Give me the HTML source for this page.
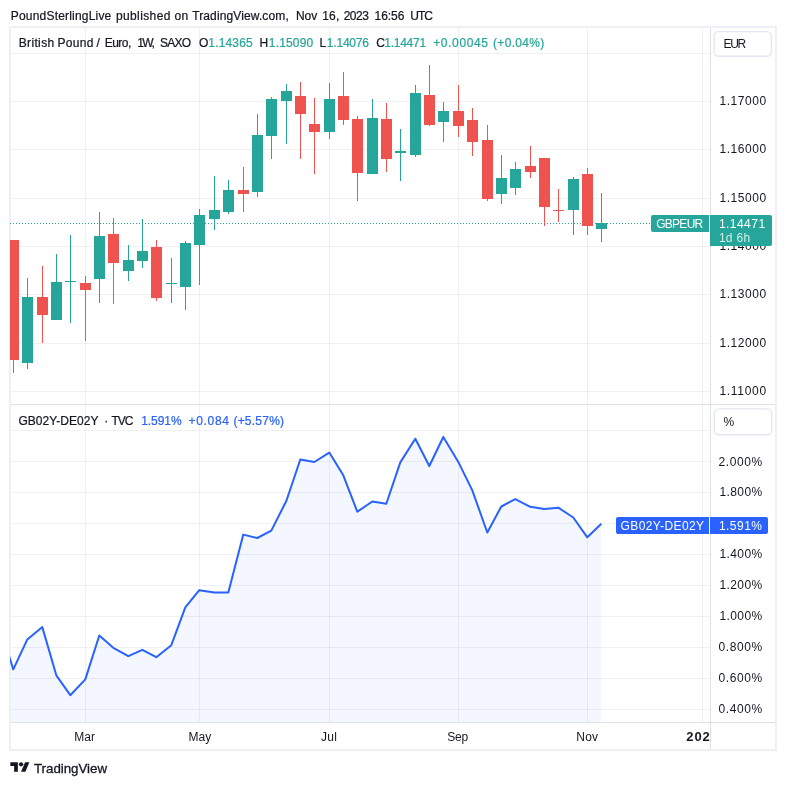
<!DOCTYPE html>
<html><head><meta charset="utf-8"><title>GBPEUR chart</title>
<style>
html,body{margin:0;padding:0;background:#fff;}
body{width:786px;height:785px;position:relative;overflow:hidden;font-family:"Liberation Sans",Arial,sans-serif;color:#131722;}
.t{position:absolute;white-space:nowrap;font-size:12px;line-height:14px;-webkit-text-stroke:0.22px currentColor;}
.g{color:#26a69a;} .b{color:#2962ff;} .ns{-webkit-text-stroke:0;} .tvt{-webkit-text-stroke:0.3px #131722;} .w{color:#fff;-webkit-text-stroke:0;} .w2{color:rgba(255,255,255,.8);-webkit-text-stroke:0;}
.ax{position:absolute;left:719px;font-size:12px;line-height:14px;letter-spacing:0.55px;white-space:nowrap;}
.tm{position:absolute;top:730px;font-size:12px;line-height:14px;white-space:nowrap;transform:translateX(-50%);}
.btn{position:absolute;left:713px;width:56px;height:24px;border:2px solid #eef0f5;border-radius:5px;background:#fff;box-sizing:content-box;}
.btn span{position:absolute;left:9px;top:5px;font-size:12px;line-height:14px;}
.lab{position:absolute;color:#fff;font-size:12px;line-height:14px;white-space:nowrap;box-sizing:border-box;}
</style></head><body>
<svg width="786" height="785" viewBox="0 0 786 785" style="position:absolute;left:0;top:0" shape-rendering="crispEdges">
<defs><clipPath id="c1"><rect x="10" y="28" width="700" height="376"/></clipPath><clipPath id="c2"><rect x="10" y="405" width="700" height="317"/></clipPath></defs>
<g clip-path="url(#c2)"><path d="M-0.8,625.0 L13.3,669.4 L27.3,639.4 L42.3,627.1 L56.3,675.3 L70.3,695.2 L85.3,679.4 L99.3,635.5 L113.3,647.8 L128.3,656.2 L142.3,649.8 L156.3,657.2 L171.3,645.2 L185.3,607.3 L199.3,590.2 L214.3,592.5 L228.3,592.5 L243.3,534.6 L257.3,538.0 L271.3,530.6 L286.3,501.0 L300.3,459.5 L314.3,462.0 L329.3,452.6 L343.3,475.3 L357.3,511.7 L372.3,501.5 L386.3,503.7 L400.3,462.4 L415.3,438.7 L429.3,466.0 L443.3,437.0 L458.3,461.9 L472.3,490.4 L487.3,532.5 L501.3,506.5 L515.3,499.1 L530.3,506.8 L544.3,509.0 L558.3,507.7 L573.3,517.5 L587.3,537.3 L601.3,523.8 L601,722 L-1,722 Z" fill="#f4f7ff" stroke="none"/></g>
<rect x="85" y="28" width="1" height="694" fill="rgba(42,46,57,0.065)"/>
<rect x="199" y="28" width="1" height="694" fill="rgba(42,46,57,0.065)"/>
<rect x="329" y="28" width="1" height="694" fill="rgba(42,46,57,0.065)"/>
<rect x="458" y="28" width="1" height="694" fill="rgba(42,46,57,0.065)"/>
<rect x="587" y="28" width="1" height="694" fill="rgba(42,46,57,0.065)"/>
<rect x="702" y="28" width="1" height="694" fill="rgba(42,46,57,0.065)"/>
<rect x="11" y="53" width="699" height="1" fill="rgba(42,46,57,0.065)"/>
<rect x="11" y="101" width="699" height="1" fill="rgba(42,46,57,0.065)"/>
<rect x="11" y="149" width="699" height="1" fill="rgba(42,46,57,0.065)"/>
<rect x="11" y="198" width="699" height="1" fill="rgba(42,46,57,0.065)"/>
<rect x="11" y="246" width="699" height="1" fill="rgba(42,46,57,0.065)"/>
<rect x="11" y="294" width="699" height="1" fill="rgba(42,46,57,0.065)"/>
<rect x="11" y="343" width="699" height="1" fill="rgba(42,46,57,0.065)"/>
<rect x="11" y="391" width="699" height="1" fill="rgba(42,46,57,0.065)"/>
<rect x="11" y="430" width="699" height="1" fill="rgba(42,46,57,0.065)"/>
<rect x="11" y="461" width="699" height="1" fill="rgba(42,46,57,0.065)"/>
<rect x="11" y="492" width="699" height="1" fill="rgba(42,46,57,0.065)"/>
<rect x="11" y="523" width="699" height="1" fill="rgba(42,46,57,0.065)"/>
<rect x="11" y="554" width="699" height="1" fill="rgba(42,46,57,0.065)"/>
<rect x="11" y="585" width="699" height="1" fill="rgba(42,46,57,0.065)"/>
<rect x="11" y="616" width="699" height="1" fill="rgba(42,46,57,0.065)"/>
<rect x="11" y="647" width="699" height="1" fill="rgba(42,46,57,0.065)"/>
<rect x="11" y="678" width="699" height="1" fill="rgba(42,46,57,0.065)"/>
<rect x="11" y="709" width="699" height="1" fill="rgba(42,46,57,0.065)"/>
<rect x="10" y="27" width="766" height="723" fill="none" stroke="#eef0f5" stroke-width="2"/>
<rect x="11" y="404" width="764" height="1" fill="#dee0e7"/>
<rect x="11" y="722" width="764" height="1" fill="#dee0e7"/>
<rect x="710" y="28" width="1" height="721" fill="#dee0e7"/>
<line x1="10" x2="710" y1="223.5" y2="223.5" stroke="#26a69a" stroke-width="1" stroke-dasharray="1 2"/>
<g clip-path="url(#c1)">
<rect x="13" y="240" width="1" height="133" fill="#ef5350"/>
<rect x="8" y="240" width="11" height="120" fill="#ef5350"/>
<rect x="27" y="278" width="1" height="91" fill="#26a69a"/>
<rect x="22" y="297" width="11" height="66" fill="#26a69a"/>
<rect x="42" y="266" width="1" height="77" fill="#ef5350"/>
<rect x="37" y="297" width="11" height="18" fill="#ef5350"/>
<rect x="56" y="254" width="1" height="66" fill="#26a69a"/>
<rect x="51" y="282" width="11" height="38" fill="#26a69a"/>
<rect x="70" y="235" width="1" height="88" fill="#26a69a"/>
<rect x="65" y="281" width="11" height="1" fill="#26a69a"/>
<rect x="85" y="276" width="1" height="65" fill="#ef5350"/>
<rect x="80" y="283" width="11" height="7" fill="#ef5350"/>
<rect x="99" y="212" width="1" height="91" fill="#26a69a"/>
<rect x="94" y="236" width="11" height="43" fill="#26a69a"/>
<rect x="113" y="218" width="1" height="86" fill="#ef5350"/>
<rect x="108" y="234" width="11" height="29" fill="#ef5350"/>
<rect x="128" y="245" width="1" height="36" fill="#26a69a"/>
<rect x="123" y="260" width="11" height="11" fill="#26a69a"/>
<rect x="142" y="219" width="1" height="49" fill="#26a69a"/>
<rect x="137" y="251" width="11" height="10" fill="#26a69a"/>
<rect x="156" y="240" width="1" height="61" fill="#ef5350"/>
<rect x="151" y="247" width="11" height="51" fill="#ef5350"/>
<rect x="171" y="258" width="1" height="45" fill="#26a69a"/>
<rect x="166" y="283" width="11" height="1" fill="#26a69a"/>
<rect x="185" y="241" width="1" height="69" fill="#26a69a"/>
<rect x="180" y="243" width="11" height="44" fill="#26a69a"/>
<rect x="199" y="209" width="1" height="76" fill="#26a69a"/>
<rect x="194" y="215" width="11" height="30" fill="#26a69a"/>
<rect x="214" y="176" width="1" height="54" fill="#26a69a"/>
<rect x="209" y="210" width="11" height="9" fill="#26a69a"/>
<rect x="228" y="180" width="1" height="34" fill="#26a69a"/>
<rect x="223" y="190" width="11" height="22" fill="#26a69a"/>
<rect x="243" y="167" width="1" height="45" fill="#ef5350"/>
<rect x="238" y="190" width="11" height="4" fill="#ef5350"/>
<rect x="257" y="114" width="1" height="83" fill="#26a69a"/>
<rect x="252" y="135" width="11" height="57" fill="#26a69a"/>
<rect x="271" y="97" width="1" height="62" fill="#26a69a"/>
<rect x="266" y="99" width="11" height="37" fill="#26a69a"/>
<rect x="286" y="84" width="1" height="60" fill="#26a69a"/>
<rect x="281" y="91" width="11" height="10" fill="#26a69a"/>
<rect x="300" y="82" width="1" height="77" fill="#ef5350"/>
<rect x="295" y="96" width="11" height="18" fill="#ef5350"/>
<rect x="314" y="98" width="1" height="76" fill="#ef5350"/>
<rect x="309" y="124" width="11" height="8" fill="#ef5350"/>
<rect x="329" y="83" width="1" height="56" fill="#26a69a"/>
<rect x="324" y="99" width="11" height="33" fill="#26a69a"/>
<rect x="343" y="72" width="1" height="53" fill="#ef5350"/>
<rect x="338" y="96" width="11" height="24" fill="#ef5350"/>
<rect x="357" y="116" width="1" height="85" fill="#ef5350"/>
<rect x="352" y="119" width="11" height="54" fill="#ef5350"/>
<rect x="372" y="99" width="1" height="75" fill="#26a69a"/>
<rect x="367" y="118" width="11" height="56" fill="#26a69a"/>
<rect x="386" y="103" width="1" height="69" fill="#ef5350"/>
<rect x="381" y="119" width="11" height="40" fill="#ef5350"/>
<rect x="400" y="129" width="1" height="52" fill="#26a69a"/>
<rect x="395" y="151" width="11" height="2" fill="#26a69a"/>
<rect x="415" y="85" width="1" height="72" fill="#26a69a"/>
<rect x="410" y="93" width="11" height="62" fill="#26a69a"/>
<rect x="429" y="65" width="1" height="61" fill="#ef5350"/>
<rect x="424" y="95" width="11" height="30" fill="#ef5350"/>
<rect x="443" y="102" width="1" height="40" fill="#26a69a"/>
<rect x="438" y="111" width="11" height="11" fill="#26a69a"/>
<rect x="458" y="85" width="1" height="52" fill="#ef5350"/>
<rect x="453" y="111" width="11" height="15" fill="#ef5350"/>
<rect x="472" y="108" width="1" height="48" fill="#ef5350"/>
<rect x="467" y="120" width="11" height="22" fill="#ef5350"/>
<rect x="487" y="125" width="1" height="76" fill="#ef5350"/>
<rect x="482" y="140" width="11" height="59" fill="#ef5350"/>
<rect x="501" y="155" width="1" height="49" fill="#26a69a"/>
<rect x="496" y="178" width="11" height="16" fill="#26a69a"/>
<rect x="515" y="162" width="1" height="33" fill="#26a69a"/>
<rect x="510" y="169" width="11" height="19" fill="#26a69a"/>
<rect x="530" y="146" width="1" height="32" fill="#ef5350"/>
<rect x="525" y="166" width="11" height="6" fill="#ef5350"/>
<rect x="544" y="158" width="1" height="68" fill="#ef5350"/>
<rect x="539" y="158" width="11" height="49" fill="#ef5350"/>
<rect x="558" y="189" width="1" height="33" fill="#ef5350"/>
<rect x="553" y="210" width="11" height="1" fill="#ef5350"/>
<rect x="573" y="177" width="1" height="58" fill="#26a69a"/>
<rect x="568" y="179" width="11" height="31" fill="#26a69a"/>
<rect x="587" y="168" width="1" height="67" fill="#ef5350"/>
<rect x="582" y="174" width="11" height="52" fill="#ef5350"/>
<rect x="601" y="193" width="1" height="49" fill="#26a69a"/>
<rect x="596" y="223" width="11" height="6" fill="#26a69a"/>
</g>
<g clip-path="url(#c2)" shape-rendering="geometricPrecision"><path d="M-0.8,625.0 L13.3,669.4 L27.3,639.4 L42.3,627.1 L56.3,675.3 L70.3,695.2 L85.3,679.4 L99.3,635.5 L113.3,647.8 L128.3,656.2 L142.3,649.8 L156.3,657.2 L171.3,645.2 L185.3,607.3 L199.3,590.2 L214.3,592.5 L228.3,592.5 L243.3,534.6 L257.3,538.0 L271.3,530.6 L286.3,501.0 L300.3,459.5 L314.3,462.0 L329.3,452.6 L343.3,475.3 L357.3,511.7 L372.3,501.5 L386.3,503.7 L400.3,462.4 L415.3,438.7 L429.3,466.0 L443.3,437.0 L458.3,461.9 L472.3,490.4 L487.3,532.5 L501.3,506.5 L515.3,499.1 L530.3,506.8 L544.3,509.0 L558.3,507.7 L573.3,517.5 L587.3,537.3 L601.3,523.8" fill="none" stroke="#2962ff" stroke-width="2" stroke-linejoin="round" stroke-linecap="butt"/></g>
<g shape-rendering="geometricPrecision" fill="#fff" stroke="#e3e7f1" stroke-width="1.4"><rect x="714.1" y="31.6" width="57.3" height="24.7" rx="4.5"/><rect x="714.3" y="408.9" width="57.4" height="25.9" rx="4.5"/></g>
</svg>
<div class="t " style="left:10.80px;top:9px;font-size:12px;font-weight:normal;letter-spacing:0.192px">PoundSterlingLive</div>
<div class="t " style="left:115.90px;top:9px;font-size:12px;font-weight:normal;letter-spacing:0.387px">published</div>
<div class="t " style="left:174.40px;top:9px;font-size:12px;font-weight:normal;letter-spacing:0.526px">on</div>
<div class="t " style="left:192.20px;top:9px;font-size:12px;font-weight:normal;letter-spacing:0.122px">TradingView.com,</div>
<div class="t " style="left:296.00px;top:9px;font-size:12px;font-weight:normal;letter-spacing:-0.070px">Nov</div>
<div class="t " style="left:322.20px;top:9px;font-size:12px;font-weight:normal;letter-spacing:0.226px">16,</div>
<div class="t " style="left:343.70px;top:9px;font-size:12px;font-weight:normal;letter-spacing:-0.507px">2023</div>
<div class="t " style="left:374.50px;top:9px;font-size:12px;font-weight:normal;letter-spacing:-0.039px">16:56</div>
<div class="t " style="left:410.30px;top:9px;font-size:12px;font-weight:normal;letter-spacing:-0.998px">UTC</div>
<div class="t " style="left:18.70px;top:36px;font-size:12px;font-weight:normal;letter-spacing:0.356px">British</div>
<div class="t " style="left:57.60px;top:36px;font-size:12px;font-weight:normal;letter-spacing:0.269px">Pound</div>
<div class="t " style="left:96.50px;top:36px;font-size:12px;font-weight:normal;letter-spacing:0.000px">/</div>
<div class="t " style="left:104.80px;top:36px;font-size:12px;font-weight:normal;letter-spacing:-0.562px">Euro,</div>
<div class="t " style="left:137.20px;top:36px;font-size:12px;font-weight:normal;letter-spacing:-1.519px">1W,</div>
<div class="t " style="left:159.90px;top:36px;font-size:12px;font-weight:normal;letter-spacing:-0.704px">SAXO</div>
<div class="t " style="left:199.00px;top:36px;font-size:12px;font-weight:normal;letter-spacing:0.000px">O</div>
<div class="t g" style="left:208.30px;top:36px;font-size:12px;font-weight:normal;letter-spacing:0.166px">1.14365</div>
<div class="t " style="left:259.60px;top:36px;font-size:12px;font-weight:normal;letter-spacing:0.000px">H</div>
<div class="t g" style="left:268.80px;top:36px;font-size:12px;font-weight:normal;letter-spacing:0.166px">1.15090</div>
<div class="t " style="left:319.40px;top:36px;font-size:12px;font-weight:normal;letter-spacing:0.000px">L</div>
<div class="t g" style="left:326.80px;top:36px;font-size:12px;font-weight:normal;letter-spacing:-0.201px">1.14076</div>
<div class="t " style="left:376.20px;top:36px;font-size:12px;font-weight:normal;letter-spacing:0.000px">C</div>
<div class="t g" style="left:384.30px;top:36px;font-size:12px;font-weight:normal;letter-spacing:-0.267px">1.14471</div>
<div class="t g" style="left:433.20px;top:36px;font-size:12px;font-weight:normal;letter-spacing:0.627px">+0.00045</div>
<div class="t g" style="left:493.00px;top:36px;font-size:12px;font-weight:normal;letter-spacing:0.324px">(+0.04%)</div>
<div class="t " style="left:18.40px;top:414px;font-size:12px;font-weight:normal;letter-spacing:0.050px">GB02Y-DE02Y</div>
<div class="t " style="left:104.30px;top:414px;font-size:12px;font-weight:normal;letter-spacing:0.000px">·</div>
<div class="t " style="left:111.50px;top:414px;font-size:12px;font-weight:normal;letter-spacing:-1.017px">TVC</div>
<div class="t b" style="left:141.20px;top:414px;font-size:12px;font-weight:normal;letter-spacing:-0.046px">1.591%</div>
<div class="t b" style="left:188.60px;top:414px;font-size:12px;font-weight:normal;letter-spacing:0.667px">+0.084</div>
<div class="t b" style="left:233.40px;top:414px;font-size:12px;font-weight:normal;letter-spacing:0.239px">(+5.57%)</div>


<div class="t ns" style="left:719.50px;top:94px;font-size:12px;font-weight:normal;letter-spacing:0.533px">1.17000</div>
<div class="t ns" style="left:719.50px;top:142px;font-size:12px;font-weight:normal;letter-spacing:0.533px">1.16000</div>
<div class="t ns" style="left:719.50px;top:191px;font-size:12px;font-weight:normal;letter-spacing:0.533px">1.15000</div>
<div class="t ns" style="left:719.50px;top:239px;font-size:12px;font-weight:normal;letter-spacing:0.533px">1.14000</div>
<div class="t ns" style="left:719.50px;top:287px;font-size:12px;font-weight:normal;letter-spacing:0.533px">1.13000</div>
<div class="t ns" style="left:719.50px;top:336px;font-size:12px;font-weight:normal;letter-spacing:0.533px">1.12000</div>
<div class="t ns" style="left:719.50px;top:384px;font-size:12px;font-weight:normal;letter-spacing:0.681px">1.11000</div>
<div class="t ns" style="left:718.40px;top:455px;font-size:12px;font-weight:normal;letter-spacing:0.614px">2.000%</div>
<div class="t ns" style="left:719.50px;top:485px;font-size:12px;font-weight:normal;letter-spacing:0.394px">1.800%</div>
<div class="t ns" style="left:719.50px;top:547px;font-size:12px;font-weight:normal;letter-spacing:0.394px">1.400%</div>
<div class="t ns" style="left:719.50px;top:578px;font-size:12px;font-weight:normal;letter-spacing:0.394px">1.200%</div>
<div class="t ns" style="left:719.50px;top:609px;font-size:12px;font-weight:normal;letter-spacing:0.394px">1.000%</div>
<div class="t ns" style="left:718.40px;top:640px;font-size:12px;font-weight:normal;letter-spacing:0.614px">0.800%</div>
<div class="t ns" style="left:718.40px;top:671px;font-size:12px;font-weight:normal;letter-spacing:0.614px">0.600%</div>
<div class="t ns" style="left:718.40px;top:702px;font-size:12px;font-weight:normal;letter-spacing:0.614px">0.400%</div>
<div class="lab" style="left:651px;top:215px;width:58px;height:17px;background:#26a69a;border-radius:2px 0 0 2px;"></div>
<div class="lab" style="left:710px;top:215px;width:62px;height:31px;background:#26a69a;border-radius:0 2px 2px 0;"></div>
<div class="lab" style="left:616px;top:517px;width:93px;height:17px;background:#2962ff;border-radius:2px 0 0 2px;"></div>
<div class="lab" style="left:710px;top:517px;width:58px;height:17px;background:#2962ff;border-radius:0 2px 2px 0;"></div>
<div style="position:absolute;left:709px;top:215px;width:1px;height:17px;background:#fff"></div>
<div style="position:absolute;left:709px;top:517px;width:1px;height:17px;background:#fff"></div>
<div class="t w" style="left:656.20px;top:217px;font-size:12px;font-weight:normal;letter-spacing:-0.722px">GBPEUR</div>
<div class="t w" style="left:718.90px;top:217px;font-size:12px;font-weight:normal;letter-spacing:0.466px">1.14471</div>
<div class="t w2" style="left:718.90px;top:231px;font-size:12px;font-weight:normal;letter-spacing:0.286px">1d 6h</div>
<div class="t w" style="left:620.60px;top:519px;font-size:12px;font-weight:normal;letter-spacing:0.380px">GB02Y-DE02Y</div>
<div class="t w" style="left:718.90px;top:519px;font-size:12px;font-weight:normal;letter-spacing:0.474px">1.591%</div>
<div class="t ns" style="left:74.30px;top:730px;font-size:12px;font-weight:normal;letter-spacing:0.015px">Mar</div>
<div class="t ns" style="left:188.50px;top:730px;font-size:12px;font-weight:normal;letter-spacing:0.065px">May</div>
<div class="t ns" style="left:321.00px;top:730px;font-size:12px;font-weight:normal;letter-spacing:0.313px">Jul</div>
<div class="t ns" style="left:447.20px;top:730px;font-size:12px;font-weight:normal;letter-spacing:-0.189px">Sep</div>
<div class="t ns" style="left:576.30px;top:730px;font-size:12px;font-weight:normal;letter-spacing:0.180px">Nov</div>
<div class="t ns" style="left:723.50px;top:37px;font-size:12px;font-weight:normal;letter-spacing:-1.335px">EUR</div>
<div class="t ns" style="left:723.50px;top:415px;font-size:12px;font-weight:normal;letter-spacing:0.000px">%</div>
<div class="t tvt" style="left:34.00px;top:761.5px;font-size:13.3px;font-weight:normal;letter-spacing:-0.017px">TradingView</div>
<div style="position:absolute;left:680px;top:723px;width:29.6px;height:26px;overflow:hidden"><div class="t" style="left:6.3px;top:6.5px;font-size:13px;font-weight:bold;letter-spacing:0.85px;-webkit-text-stroke:0">2024</div></div>

<svg style="position:absolute;left:9.6px;top:760px" width="20" height="15" viewBox="0 0 36 28"><path d="M14 22H7V11H0V4h14v18zM28 22h-8l7.500-18h8L28 22z" fill="#131722"/><circle cx="20" cy="8" r="4" fill="#131722"/></svg>
</body></html>
